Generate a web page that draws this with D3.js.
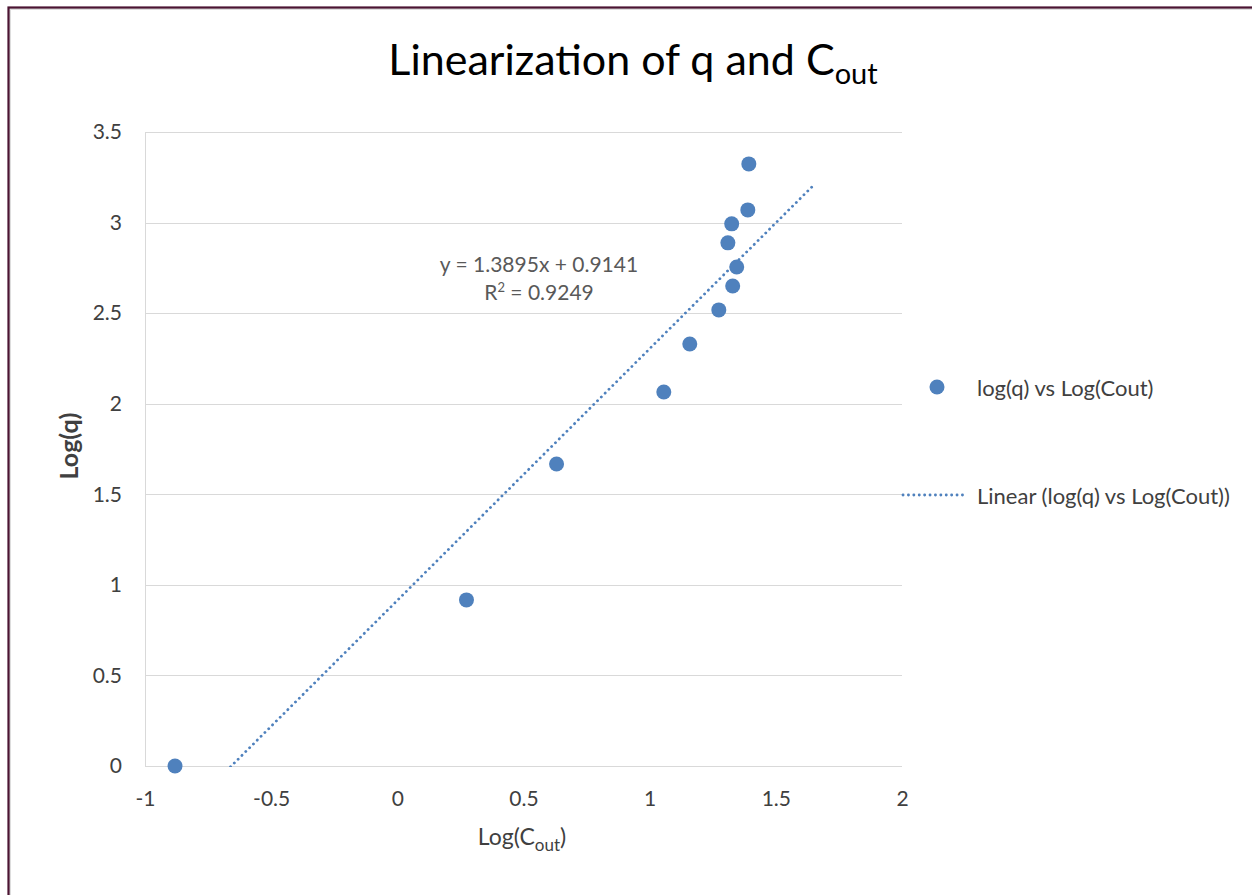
<!DOCTYPE html>
<html>
<head>
<meta charset="utf-8">
<script src="https://cdn.jsdelivr.net/npm/d3@7"></script>
<style>
  body { margin: 0; background: #fff; }
  svg text { font-family: Lato, "Open Sans", sans-serif; }
</style>
</head>
<body>
<div id="chart"></div>
<script>
// data
var logCout = [-0.881, 0.274, 0.631, 1.056, 1.159, 1.274, 1.329, 1.345, 1.310, 1.325, 1.389, 1.393];
var logQ    = [0.000, 0.917, 1.667, 2.065, 2.330, 2.518, 2.650, 2.755, 2.888, 2.993, 3.070, 3.324];
var xTicks = [-1, -0.5, 0, 0.5, 1, 1.5, 2];
var yTicks = [0, 0.5, 1, 1.5, 2, 2.5, 3, 3.5];
var slope = 1.3895, intercept = 0.9141, rSquared = 0.9249;
var trendRange = [-1.131, 1.643];   // forecast 0.25 both ways

var W = 1252, H = 895;
var blue = "#4f81bd";

var svg = d3.select("#chart").append("svg").attr("width", W).attr("height", H);

// frame
svg.append("rect").attr("x", 10).attr("y", 9).attr("width", W).attr("height", H)
   .attr("fill", "none").attr("stroke", "#ddd").attr("stroke-width", 2);
svg.append("rect").attr("x", 8.5).attr("y", 7.5).attr("width", W).attr("height", H)
   .attr("fill", "none").attr("stroke", "#4b1432").attr("stroke-width", 2.2);

var x = d3.scaleLinear().domain([-1, 2]).range([145, 902]);
var y = d3.scaleLinear().domain([0, 3.5]).range([766, 132]);

// gridlines
svg.append("g").selectAll("line").data(yTicks).enter().append("line")
   .attr("x1", x(-1)).attr("x2", x(2))
   .attr("y1", function(d){ return Math.round(y(d)) + 0.5; })
   .attr("y2", function(d){ return Math.round(y(d)) + 0.5; })
   .attr("stroke", "#d9d9d9").attr("stroke-width", 1);
svg.append("line").attr("x1", x(-1) + 0.5).attr("x2", x(-1) + 0.5)
   .attr("y1", y(3.5)).attr("y2", y(0)).attr("stroke", "#d9d9d9");

// axes labels
var fmt = function(d){ return String(d); };
var yAxis = d3.axisLeft(y).tickValues(yTicks).tickSize(0).tickPadding(23).tickFormat(fmt);
var gy = svg.append("g").attr("transform", "translate(" + x(-1) + ",0)").call(yAxis);
var xAxis = d3.axisBottom(x).tickValues(xTicks).tickSize(0).tickPadding(25).tickFormat(fmt);
var gx = svg.append("g").attr("transform", "translate(0," + y(0) + ")").call(xAxis);
[gx, gy].forEach(function(g){
  g.select(".domain").remove();
  g.selectAll("text").attr("font-size", 21).attr("fill", "#404040")
   .style("font-family", "Lato, 'Open Sans', sans-serif");
});
gx.selectAll("text").attr("dy", "0.71em");

// trendline
svg.append("clipPath").attr("id", "plotclip").append("rect")
   .attr("x", x(-1)).attr("y", y(3.5)).attr("width", x(2) - x(-1)).attr("height", y(0) - y(3.5) + 1);
svg.append("line").attr("clip-path", "url(#plotclip)")
   .attr("x1", x(trendRange[0])).attr("y1", y(slope * trendRange[0] + intercept))
   .attr("x2", x(trendRange[1])).attr("y2", y(slope * trendRange[1] + intercept))
   .attr("stroke", blue).attr("stroke-width", 2.8)
   .attr("stroke-dasharray", "0.1 5.3").attr("stroke-linecap", "round");

// points
svg.append("g").selectAll("circle").data(logCout).enter().append("circle")
   .attr("cx", function(d){ return x(d); })
   .attr("cy", function(d, i){ return y(logQ[i]); })
   .attr("r", 7.5).attr("fill", blue);

// equation
var eq = svg.append("text").attr("x", 539).attr("y", 272).attr("text-anchor", "middle")
   .attr("font-size", 21).attr("fill", "#595959");
eq.text("y = " + slope + "x + " + intercept);
var r2 = svg.append("text").attr("x", 539).attr("y", 300).attr("text-anchor", "middle")
   .attr("font-size", 21).attr("fill", "#595959");
r2.append("tspan").text("R");
r2.append("tspan").attr("font-size", 13).attr("dy", -8).text("2");
r2.append("tspan").attr("dy", 8).text(" = " + rSquared);

// title
var t = svg.append("text").attr("x", 633).attr("y", 75).attr("text-anchor", "middle")
   .attr("font-size", 43).attr("fill", "#000");
t.append("tspan").text("Linearization of q and C");
t.append("tspan").attr("font-size", 29).attr("dy", 9).text("out");

// axis titles
svg.append("text").attr("transform", "translate(78,446) rotate(-90)")
   .attr("text-anchor", "middle").attr("font-size", 25).attr("font-weight", "bold")
   .attr("fill", "#404040").text("Log(q)");
var xt = svg.append("text").attr("x", 522).attr("y", 845).attr("text-anchor", "middle")
   .attr("font-size", 23).attr("fill", "#404040");
xt.append("tspan").text("Log(C");
xt.append("tspan").attr("font-size", 17).attr("dy", 6).text("out");
xt.append("tspan").attr("dy", -6).text(")");

// legend
svg.append("circle").attr("cx", 937).attr("cy", 387).attr("r", 7.5).attr("fill", blue);
svg.append("text").attr("x", 977).attr("y", 396).attr("font-size", 22).attr("fill", "#404040")
   .text("log(q) vs Log(Cout)");
svg.append("line").attr("x1", 903).attr("x2", 966).attr("y1", 495).attr("y2", 495)
   .attr("stroke", blue).attr("stroke-width", 2.8)
   .attr("stroke-dasharray", "0.1 5.3").attr("stroke-linecap", "round");
svg.append("text").attr("x", 977).attr("y", 504).attr("font-size", 22).attr("fill", "#404040")
   .text("Linear (log(q) vs Log(Cout))");
</script>
</body>
</html>
